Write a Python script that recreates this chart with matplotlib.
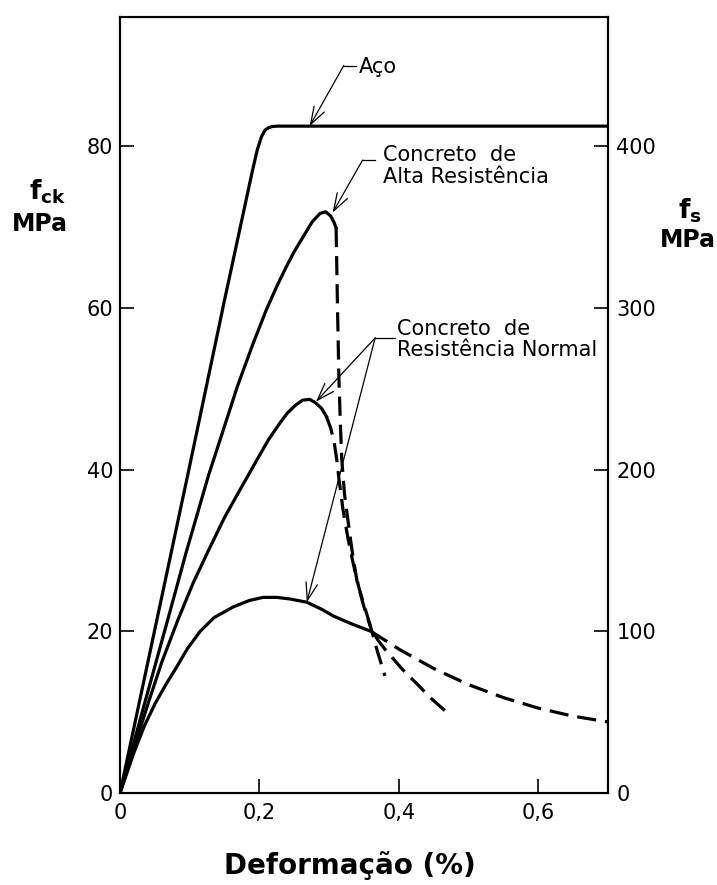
import matplotlib
matplotlib.use('Agg')
import matplotlib.pyplot as plt

plt.rcParams['font.family'] = ['DejaVu Sans']
plt.rcParams['mathtext.fontset'] = 'dejavusans'

# curves: strain (%) vs stress on the fck scale (MPa)
aco_x = [0, 0.10, 0.15, 0.19, 0.197, 0.203, 0.208, 0.213, 0.218, 0.225, 0.70]
aco_y = [0, 40.5, 61.0, 77.0, 79.6, 81.2, 82.0, 82.3, 82.45, 82.5, 82.5]

alta_x = [0, 0.035, 0.069, 0.095, 0.127, 0.15, 0.168, 0.19, 0.21, 0.225, 0.238, 0.25,
          0.262, 0.276, 0.287, 0.295, 0.302, 0.307, 0.31]
alta_y = [0, 11.0, 21.6, 29.8, 39.3, 45.4, 50.2, 55.4, 59.8, 62.7, 65.0, 67.0,
          68.7, 70.7, 71.7, 71.9, 71.4, 70.6, 69.9]
alta_desc_x = [0.31, 0.311, 0.312, 0.314, 0.316, 0.318, 0.322, 0.329, 0.334, 0.34,
               0.35, 0.36, 0.37, 0.38]
alta_desc_y = [69.9, 65.0, 60.0, 51.3, 46.0, 41.4, 37.0, 32.4, 29.3, 26.2,
               23.0, 20.4, 17.3, 14.5]

n48_x = [0, 0.02, 0.04, 0.06, 0.083, 0.105, 0.128, 0.15, 0.174, 0.195, 0.213,
         0.228, 0.24, 0.252, 0.262, 0.272, 0.28, 0.289, 0.296]
n48_y = [0, 5.5, 11.0, 16.2, 21.4, 26.0, 30.2, 34.1, 37.8, 41.0, 43.7,
         45.6, 47.0, 48.0, 48.6, 48.7, 48.3, 47.6, 46.6]
n48_desc_x = [0.296, 0.302, 0.307, 0.311, 0.314, 0.32, 0.327, 0.335, 0.343, 0.352,
              0.36, 0.37, 0.38, 0.39, 0.405, 0.426, 0.445, 0.466]
n48_desc_y = [46.6, 45.2, 43.5, 41.2, 38.9, 35.0, 31.5, 28.2, 25.3, 22.7,
              20.4, 18.9, 17.8, 16.8, 15.3, 13.5, 11.8, 10.2]

n24_x = [0, 0.02, 0.035, 0.05, 0.065, 0.08, 0.097, 0.115, 0.135, 0.162, 0.185, 0.205,
         0.225, 0.244, 0.268, 0.29, 0.306, 0.33, 0.36]
n24_y = [0, 5.0, 8.3, 11.0, 13.3, 15.4, 17.9, 20.0, 21.7, 23.0, 23.8, 24.2,
         24.2, 24.0, 23.6, 22.7, 21.9, 21.0, 20.0]
n24_desc_x = [0.36, 0.40, 0.45, 0.50, 0.55, 0.60, 0.65, 0.70]
n24_desc_y = [20.0, 17.8, 15.4, 13.4, 11.8, 10.5, 9.5, 8.8]

x_ticks = [0, 0.2, 0.4, 0.6]
x_labels = ['0', '0,2', '0,4', '0,6']
fck_ticks = [0, 20, 40, 60, 80]
fs_ticks = [0, 100, 200, 300, 400]

fig = plt.figure(figsize=(7.17, 8.85), dpi=100)
ax = fig.add_axes([120 / 717, 92 / 885, 488 / 717, 776 / 885])

lw = 2.3
dash = (6, 2.8)
ax.plot(aco_x, aco_y, color='k', lw=lw)
ax.plot(alta_x, alta_y, color='k', lw=lw)
ax.plot(alta_desc_x, alta_desc_y, color='k', lw=lw, dashes=dash)
ax.plot(n48_x, n48_y, color='k', lw=lw)
ax.plot(n48_desc_x, n48_desc_y, color='k', lw=lw, dashes=dash)
ax.plot(n24_x, n24_y, color='k', lw=lw)
ax.plot(n24_desc_x, n24_desc_y, color='k', lw=lw, dashes=dash)

ax.set_xlim(0, 0.7)
ax.set_ylim(0, 96)
ax.set_xticks(x_ticks)
ax.set_xticklabels(x_labels)
ax.set_yticks(fck_ticks)

ax2 = ax.twinx()
ax2.set_ylim(0, 96 * 5)
ax2.set_yticks(fs_ticks)

for a in (ax, ax2):
    for s in a.spines.values():
        s.set_linewidth(1.5)
ax.tick_params(axis='both', direction='in', length=10, width=1.2, labelsize=15)
ax.tick_params(axis='x', pad=7)
ax.tick_params(axis='y', pad=5)
ax2.tick_params(axis='y', direction='in', length=10, width=1.2, labelsize=15, pad=6)

# leader lines + arrows
arrow = dict(arrowstyle='->,head_length=0.9,head_width=0.3', lw=0.9, color='k',
             shrinkA=0, shrinkB=0, mutation_scale=14)

def label(txt, knee, end, tips, tx, ty):
    ax.plot([knee[0], end[0]], [knee[1], knee[1]], color='k', lw=0.9)
    for t in tips:
        ax.annotate('', xy=t, xytext=knee, arrowprops=arrow)
    ax.text(tx, ty, txt, fontsize=15, va='center', ha='left', linespacing=1.1)

label('Aço', (0.321, 90.0), (0.339, 90.0), [(0.272, 82.5)], 0.343, 89.8)
label('Concreto  de\nAlta Resistência', (0.348, 78.3), (0.366, 78.3),
      [(0.305, 71.8)], 0.377, 77.6)
label('Concreto  de\nResistência Normal', (0.366, 56.3), (0.394, 56.3),
      [(0.281, 48.4), (0.268, 23.6)], 0.398, 56.1)

# axis titles
fig.text(48 / 717, 1 - 192 / 885, r'$\mathbf{f}_{\mathbf{ck}}$', fontsize=19,
         ha='center', va='center')
fig.text(40 / 717, 1 - 224 / 885, 'MPa', fontsize=17, fontweight='bold',
         ha='center', va='center')
fig.text(690 / 717, 1 - 211 / 885, r'$\mathbf{f}_{\mathbf{s}}$', fontsize=19,
         ha='center', va='center')
fig.text(688 / 717, 1 - 240 / 885, 'MPa', fontsize=17, fontweight='bold',
         ha='center', va='center')
fig.text(350 / 717, 1 - 866 / 885, 'Deformação (%)', fontsize=20, fontweight='bold',
         ha='center', va='center')

fig.savefig('out.png', dpi=100)
